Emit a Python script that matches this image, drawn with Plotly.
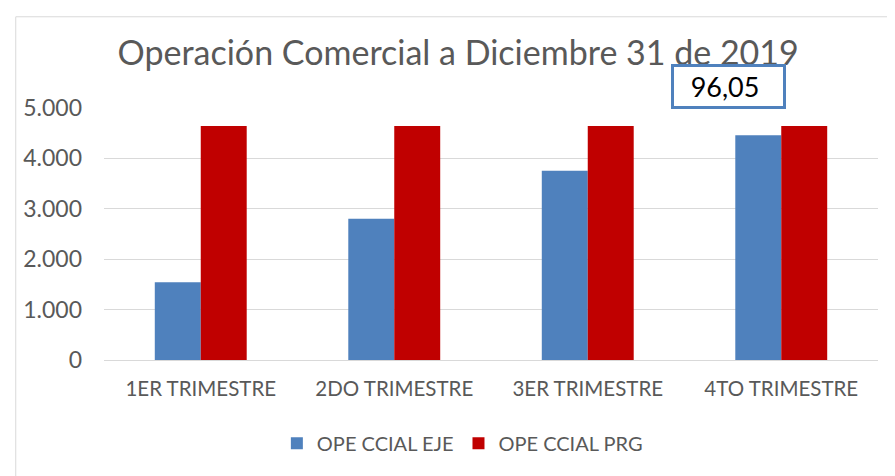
import plotly.graph_objects as go

categories = ["1ER TRIMESTRE", "2DO TRIMESTRE", "3ER TRIMESTRE", "4TO TRIMESTRE"]
ope_eje = [1545, 2805, 3755, 4460]
ope_prg = [4645, 4645, 4645, 4645]
y_ticks = [0, 1000, 2000, 3000, 4000, 5000]
annotation_text = "96,05"

grey = "#595959"
font_family = "Lato, 'Open Sans', sans-serif"

fig = go.Figure()
fig.add_trace(go.Bar(x=categories, y=ope_eje, name="OPE CCIAL EJE",
                     marker=dict(color="#4F81BD", line=dict(width=0))))
fig.add_trace(go.Bar(x=categories, y=ope_prg, name="OPE CCIAL PRG",
                     marker=dict(color="#C00000", line=dict(width=0))))

fig.update_layout(
    width=895, height=476,
    paper_bgcolor="white", plot_bgcolor="white",
    separators=",.",
    barmode="group", bargap=0.525, bargroupgap=0,
    margin=dict(l=96, r=25, t=100, b=124, autoexpand=False),
    font=dict(family=font_family, color=grey, size=21),
    title=dict(text="Operación Comercial a Diciembre 31 de 2019",
               x=0.503, xanchor="center", y=0.906, yanchor="middle",
               font=dict(size=34, color=grey, family=font_family)),
    xaxis=dict(showgrid=False, showline=True, linecolor="#D9D9D9", linewidth=1,
               ticks="", automargin=False, ticklabelstandoff=10,
               tickfont=dict(size=20.5, color=grey)),
    yaxis=dict(range=[0, 5000], tickvals=y_ticks, tickformat=",d",
               showgrid=True, gridcolor="#D9D9D9", gridwidth=1,
               zeroline=False, ticks="", ticklabelstandoff=21, automargin=False,
               tickfont=dict(size=23, color=grey)),
    legend=dict(orientation="h", x=0.463, xanchor="center", y=-0.33, yanchor="middle",
                font=dict(size=20, color=grey), traceorder="normal"),
    showlegend=True,
)

fig.add_shape(type="rect", xref="paper", yref="paper", x0=-0.114, x1=1.1, y0=-0.6, y1=1.362,
              line=dict(color="#D9D9D9", width=1), fillcolor="rgba(0,0,0,0)", layer="below")

fig.add_annotation(xref="x", yref="paper", x=3, y=1.087, xshift=-53,
                   text=annotation_text + "&nbsp;", showarrow=False,
                   font=dict(size=27, color="black", family=font_family),
                   xanchor="center", yanchor="middle",
                   bordercolor="#4F81BD", borderwidth=3, bgcolor="white",
                   width=107, height=37, align="center")

fig.write_html("out.html")
